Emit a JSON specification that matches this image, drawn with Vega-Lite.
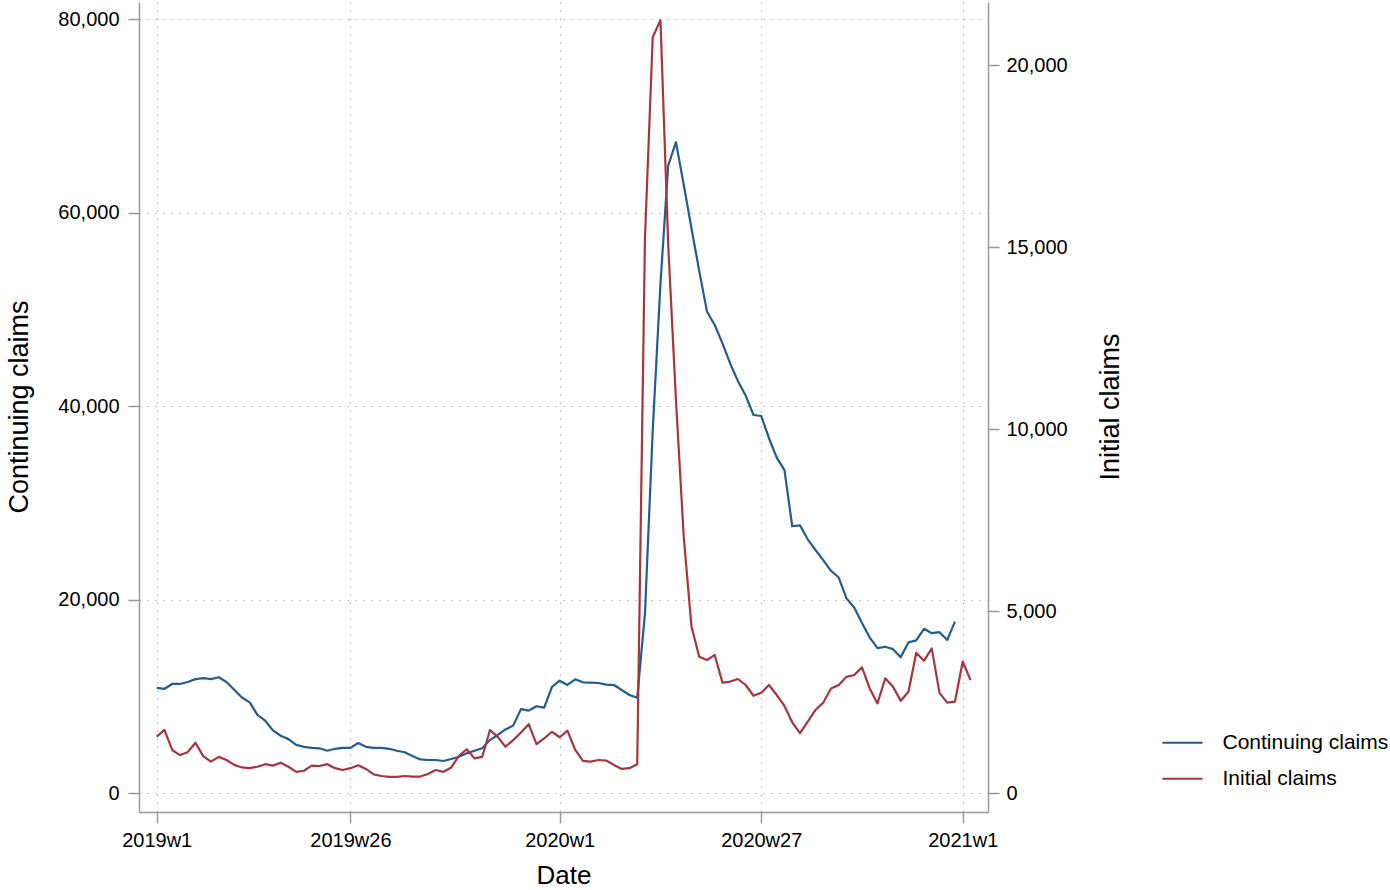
{
  "$schema": "https://vega.github.io/schema/vega-lite/v6.json",
  "autosize": {"type": "none"},
  "padding": {"left": 139, "top": 2, "right": 402, "bottom": 78},
  "width": 849,
  "height": 810,
  "background": "white",
  "config": {
    "view": {"stroke": null},
    "font": "Liberation Sans",
    "axis": {
      "labelFont": "Liberation Sans",
      "titleFont": "Liberation Sans",
      "labelFontSize": 20,
      "titleFontSize": 27,
      "titleFontWeight": "normal",
      "labelColor": "#000000",
      "titleColor": "#000000",
      "domainColor": "#9a9a9a",
      "domainWidth": 1.5,
      "tickColor": "#9a9a9a",
      "tickWidth": 1.5,
      "tickSize": 11,
      "gridColor": "#b4b4b4",
      "gridWidth": 1.2,
      "gridDash": [1.5, 6.5]
    },
    "legend": {
      "labelFont": "Liberation Sans",
      "labelFontSize": 21,
      "labelColor": "#000000",
      "labelLimit": 400
    }
  },
  "data": {
    "values": [
      {"w": 0, "cont": 10900, "init": 1555},
      {"w": 1, "cont": 10800, "init": 1740},
      {"w": 2, "cont": 11300, "init": 1190},
      {"w": 3, "cont": 11300, "init": 1050},
      {"w": 4, "cont": 11500, "init": 1130},
      {"w": 5, "cont": 11800, "init": 1390},
      {"w": 6, "cont": 11900, "init": 1020},
      {"w": 7, "cont": 11800, "init": 870},
      {"w": 8, "cont": 12000, "init": 1000},
      {"w": 9, "cont": 11500, "init": 915},
      {"w": 10, "cont": 10700, "init": 780},
      {"w": 11, "cont": 9900, "init": 710},
      {"w": 12, "cont": 9400, "init": 690},
      {"w": 13, "cont": 8100, "init": 730},
      {"w": 14, "cont": 7500, "init": 800},
      {"w": 15, "cont": 6500, "init": 760},
      {"w": 16, "cont": 5950, "init": 840},
      {"w": 17, "cont": 5600, "init": 730},
      {"w": 18, "cont": 5000, "init": 590},
      {"w": 19, "cont": 4800, "init": 620},
      {"w": 20, "cont": 4700, "init": 760},
      {"w": 21, "cont": 4650, "init": 750},
      {"w": 22, "cont": 4400, "init": 800},
      {"w": 23, "cont": 4600, "init": 690},
      {"w": 24, "cont": 4700, "init": 640},
      {"w": 25, "cont": 4700, "init": 690},
      {"w": 26, "cont": 5200, "init": 770},
      {"w": 27, "cont": 4800, "init": 670},
      {"w": 28, "cont": 4700, "init": 520},
      {"w": 29, "cont": 4700, "init": 475},
      {"w": 30, "cont": 4600, "init": 450},
      {"w": 31, "cont": 4400, "init": 450},
      {"w": 32, "cont": 4240, "init": 475},
      {"w": 33, "cont": 3860, "init": 460},
      {"w": 34, "cont": 3500, "init": 460},
      {"w": 35, "cont": 3440, "init": 530},
      {"w": 36, "cont": 3440, "init": 640},
      {"w": 37, "cont": 3340, "init": 590},
      {"w": 38, "cont": 3550, "init": 710},
      {"w": 39, "cont": 3780, "init": 1030},
      {"w": 40, "cont": 4130, "init": 1210},
      {"w": 41, "cont": 4400, "init": 960},
      {"w": 42, "cont": 4650, "init": 1000},
      {"w": 43, "cont": 5500, "init": 1740},
      {"w": 44, "cont": 6030, "init": 1550},
      {"w": 45, "cont": 6600, "init": 1280},
      {"w": 46, "cont": 7000, "init": 1460},
      {"w": 47, "cont": 8700, "init": 1670},
      {"w": 48, "cont": 8550, "init": 1900},
      {"w": 49, "cont": 9000, "init": 1350},
      {"w": 50, "cont": 8850, "init": 1510},
      {"w": 51, "cont": 11000, "init": 1690},
      {"w": 52, "cont": 11640, "init": 1540},
      {"w": 53, "cont": 11200, "init": 1720},
      {"w": 54, "cont": 11780, "init": 1190},
      {"w": 55, "cont": 11470, "init": 890},
      {"w": 56, "cont": 11440, "init": 870},
      {"w": 57, "cont": 11400, "init": 915},
      {"w": 58, "cont": 11230, "init": 900},
      {"w": 59, "cont": 11190, "init": 780},
      {"w": 60, "cont": 10680, "init": 670},
      {"w": 61, "cont": 10160, "init": 690},
      {"w": 62, "cont": 9880, "init": 800},
      {"w": 63, "cont": 18600, "init": 15260},
      {"w": 64, "cont": 37500, "init": 20770},
      {"w": 65, "cont": 52700, "init": 21240},
      {"w": 66, "cont": 64900, "init": 15060},
      {"w": 67, "cont": 67300, "init": 10800},
      {"w": 68, "cont": 62900, "init": 7050},
      {"w": 69, "cont": 58400, "init": 4580},
      {"w": 70, "cont": 54000, "init": 3750},
      {"w": 71, "cont": 49800, "init": 3660},
      {"w": 72, "cont": 48400, "init": 3800},
      {"w": 73, "cont": 46500, "init": 3040},
      {"w": 74, "cont": 44400, "init": 3070},
      {"w": 75, "cont": 42600, "init": 3140},
      {"w": 76, "cont": 41100, "init": 2975},
      {"w": 77, "cont": 39100, "init": 2680},
      {"w": 78, "cont": 39000, "init": 2760},
      {"w": 79, "cont": 36700, "init": 2975},
      {"w": 80, "cont": 34700, "init": 2700},
      {"w": 81, "cont": 33400, "init": 2400},
      {"w": 82, "cont": 27600, "init": 1950},
      {"w": 83, "cont": 27700, "init": 1650},
      {"w": 84, "cont": 26250, "init": 1970},
      {"w": 85, "cont": 25150, "init": 2290},
      {"w": 86, "cont": 24100, "init": 2490},
      {"w": 87, "cont": 23000, "init": 2880},
      {"w": 88, "cont": 22300, "init": 2975},
      {"w": 89, "cont": 20150, "init": 3200},
      {"w": 90, "cont": 19200, "init": 3250},
      {"w": 91, "cont": 17600, "init": 3460},
      {"w": 92, "cont": 16100, "init": 2880},
      {"w": 93, "cont": 15000, "init": 2470},
      {"w": 94, "cont": 15150, "init": 3160},
      {"w": 95, "cont": 14900, "init": 2930},
      {"w": 96, "cont": 14050, "init": 2540},
      {"w": 97, "cont": 15600, "init": 2790},
      {"w": 98, "cont": 15800, "init": 3860},
      {"w": 99, "cont": 17000, "init": 3640},
      {"w": 100, "cont": 16550, "init": 3980},
      {"w": 101, "cont": 16650, "init": 2760},
      {"w": 102, "cont": 15850, "init": 2490},
      {"w": 103, "cont": 17750, "init": 2520},
      {"w": 104, "cont": null, "init": 3620},
      {"w": 105, "cont": null, "init": 3110}
    ]
  },
  "encoding": {
    "x": {
      "field": "w",
      "type": "quantitative",
      "scale": {"domain": [-2.284, 107.26], "nice": false, "zero": false},
      "axis": {
        "title": "Date",
        "values": [0, 25, 52, 78, 104],
        "labelExpr": "datum.value == 0 ? '2019w1' : datum.value == 25 ? '2019w26' : datum.value == 52 ? '2020w1' : datum.value == 78 ? '2020w27' : '2021w1'",
        "labelPadding": 7,
        "labelFlush": false,
        "labelOverlap": false,
        "grid": true,
        "titleFontSize": 26,
        "titleBaseline": "alphabetic",
        "titleAnchor": "middle",
        "titleY": 71.5
      }
    }
  },
  "layer": [
    {
      "mark": {"type": "line", "strokeWidth": 2.2, "strokeJoin": "round"},
      "encoding": {
        "y": {
          "field": "cont",
          "type": "quantitative",
          "scale": {"domain": [-1933, 81788], "nice": false, "zero": false},
          "axis": {
            "orient": "left",
            "title": "Continuing claims",
            "values": [0, 20000, 40000, 60000, 80000],
            "format": ",.0f",
            "labelPadding": 9,
            "grid": true,
            "titleAngle": -90,
            "titleBaseline": "middle",
            "titleAlign": "center",
            "titleX": -120,
            "titleY": 404.5
          }
        },
        "color": {
          "datum": "Continuing claims",
          "type": "nominal",
          "scale": {"domain": ["Continuing claims", "Initial claims"], "range": ["#235d90", "#a5353f"]},
          "legend": {
            "title": null,
            "orient": "none",
            "legendX": 1022.5,
            "legendY": 722.7,
            "padding": 0,
            "symbolType": "stroke",
            "symbolSize": 1600,
            "symbolStrokeWidth": 2,
            "labelOffset": 19,
            "labelLimit": 400,
            "clipHeight": 36,
            "rowPadding": 0
          }
        }
      }
    },
    {
      "mark": {"type": "line", "strokeWidth": 2.2, "strokeJoin": "round"},
      "encoding": {
        "y": {
          "field": "init",
          "type": "quantitative",
          "scale": {"domain": [-514, 21739], "nice": false, "zero": false},
          "axis": {
            "orient": "right",
            "title": "Initial claims",
            "values": [0, 5000, 10000, 15000, 20000],
            "format": ",.0f",
            "labelPadding": 7,
            "grid": false,
            "titleAngle": -90,
            "titleBaseline": "middle",
            "titleAlign": "center",
            "titleX": 122,
            "titleY": 404.5
          }
        },
        "color": {
          "datum": "Initial claims",
          "type": "nominal",
          "scale": {"domain": ["Continuing claims", "Initial claims"], "range": ["#235d90", "#a5353f"]},
          "legend": {
            "title": null,
            "orient": "none",
            "legendX": 1022.5,
            "legendY": 722.7,
            "padding": 0,
            "symbolType": "stroke",
            "symbolSize": 1600,
            "symbolStrokeWidth": 2,
            "labelOffset": 19,
            "labelLimit": 400,
            "clipHeight": 36,
            "rowPadding": 0
          }
        }
      }
    }
  ],
  "resolve": {"scale": {"y": "independent"}, "axis": {"y": "independent"}}
}
